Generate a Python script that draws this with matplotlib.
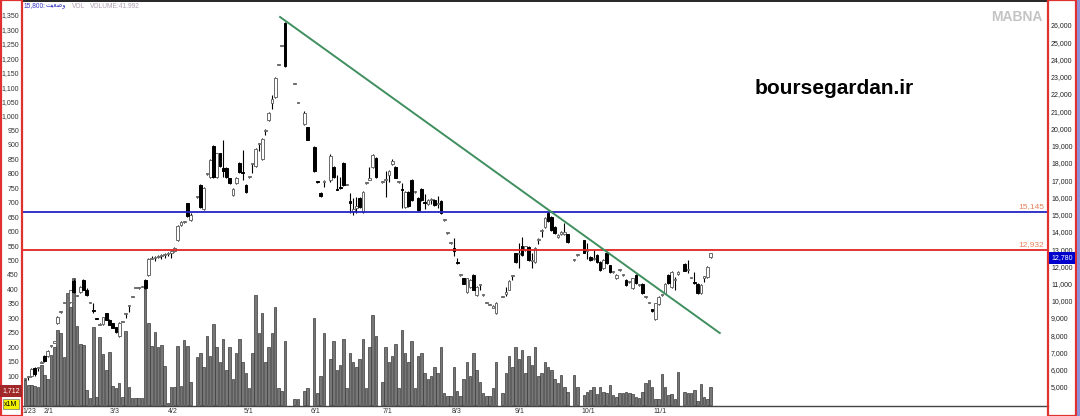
import matplotlib
matplotlib.use("Agg")
import matplotlib.pyplot as plt
import matplotlib.transforms as mtransforms
from matplotlib.patches import Rectangle

plt.rcParams['font.family'] = ['Liberation Sans', 'DejaVu Sans']

# trading day index of every candle (gaps = no candle drawn)
day = (list(range(0, 52)) + list(range(53, 81)) + [83, 84, 86, 87, 89, 90, 91, 92]
       + list(range(94, 109)) + list(range(110, 146)) + list(range(147, 168))
       + [169, 170] + list(range(172, 202)) + list(range(203, 212)))

opens = [5450, 5600, 5650, 6100, 6100, 6400, 6800, 6800, 7350, 7580,
         8700, 9350, 9870, 10150, 9950, 11150, 10250, 10500, 11200, 10650,
         9870, 9400, 8950, 8620, 8650, 9300, 8900, 8700, 8480, 7950,
         8770, 9250, 9700, 10220, 10740, 10740, 10800, 11200, 11500, 12450,
         12500, 12550, 12600, 12650, 12700, 12800, 12900, 13500, 14400, 14550,
         15650, 14700,
         16000, 16700, 15300, 17350, 17200, 19000, 17200, 18550, 17700, 17700,
         17100, 16150, 16830, 18000, 17450, 16720, 17180, 17950, 17800, 19100,
         18200, 19850, 20500, 21500, 21800, 23650, 24800, 26100,
         22600, 21470, 20250, 20080, 18900, 16900, 16250, 16900,
         17000, 17750, 16500, 16600, 18000, 16720, 15800, 15200, 15400, 15950,
         15150, 16830, 17000, 17750, 18300,
         16900, 17000, 17300, 17950, 17750, 16900, 16500, 15450, 16300, 17000,
         16300, 15950, 16500, 15700, 15600, 15850, 15850, 15600, 15800, 14700,
         13930, 13350, 13050, 12250, 11500, 11300, 10500, 10800, 11500, 10350,
         10900, 10340, 9870, 9760, 9600, 9300,
         10220, 10400, 10650, 11450, 12750, 12700, 13200, 12950, 13100, 12300,
         12250, 13500, 14050, 14300, 15100, 14850, 14300, 13700, 13850, 13900,
         13850,
         12350, 12650,
         13500, 12900, 12550, 12400, 12650, 12250, 11900, 12800, 12050, 11650,
         11300, 11800, 11500, 11200, 11100, 10750, 11500, 10900, 11000, 10200,
         9870, 9500, 8950, 9800, 10340, 10450, 11500, 10800, 11200, 11550,
         12150, 11800, 11320, 11100, 11000, 10450, 11350, 11400, 12550]

highs = [5500, 5650, 6100, 6150, 6150, 6480, 6850, 7150, 7420, 7650,
         9100, 9380, 9900, 10200, 10650, 11250, 10350, 10850, 11250, 10750,
         9900, 9870, 8980, 8700, 9080, 9320, 8920, 8720, 8500, 8750,
         8800, 9300, 9750, 10250, 10760, 10780, 10850, 11250, 12500, 12600,
         12600, 12650, 12700, 12800, 12850, 12900, 13100, 14400, 14600, 14600,
         15700, 15100,
         16050, 16750, 16600, 17400, 18200, 19050, 18600, 18600, 19300, 17750,
         17150, 16550, 17200, 18050, 18750, 16800, 17200, 18000, 18870, 19180,
         19450, 19950, 20950, 21950, 23000, 23700, 24860, 26150,
         22650, 21500, 21000, 20100, 18950, 16950, 16300, 16980,
         18500, 17800, 17300, 17200, 18050, 16750, 16250, 15960, 16000, 16000,
         16350, 16850, 17750, 18500, 18350,
         16950, 17500, 17600, 18200, 17800, 16950, 16850, 16350, 16350, 17050,
         16350, 16000, 16550, 16200, 15900, 15950, 15900, 16100, 15850, 14750,
         13950, 13400, 13650, 12500, 11550, 11350, 11350, 11250, 11550, 10850,
         10950, 10380, 9900, 9800, 9760, 9950,
         10250, 10800, 11200, 11520, 12800, 13350, 13700, 13200, 13150, 12800,
         13100, 13650, 14150, 14850, 15150, 14900, 14350, 13850, 14050, 14500,
         13900,
         12450, 12700,
         13550, 13350, 12600, 12950, 12700, 12300, 12400, 12850, 12100, 11700,
         11550, 11850, 11550, 11250, 11150, 11350, 11550, 10950, 11050, 10250,
         9900, 9550, 9900, 10250, 10380, 11050, 11550, 11700, 11400, 11700,
         12200, 12350, 11350, 11650, 11050, 10950, 11400, 12000, 12800]

lows = [5400, 5400, 5600, 5650, 5950, 6400, 6450, 6750, 7330, 7550,
        8650, 9320, 9850, 10150, 9900, 10450, 10250, 10480, 10600, 10300,
        9850, 9300, 8920, 8600, 8600, 8880, 8580, 8400, 8150, 7900,
        8750, 9000, 9350, 10200, 10720, 10700, 10780, 10700, 11450, 12400,
        12300, 12500, 12450, 12500, 12600, 12500, 12850, 13450, 14350, 14500,
        14850, 14650,
        15980, 15400, 15250, 17300, 17150, 17150, 17150, 17750, 17200, 17150,
        16800, 16100, 16800, 17400, 17000, 16250, 17150, 17400, 17750, 18700,
        18150, 19600, 20450, 21100, 21750, 23650, 24800, 23550,
        22600, 21450, 20200, 19300, 17450, 16850, 16000, 16600,
        16900, 17150, 16400, 16500, 16650, 16700, 15100, 15000, 15100, 15400,
        15100, 16800, 17000, 17700, 17150,
        16850, 16000, 16900, 17900, 17100, 16850, 15400, 15400, 15450, 15800,
        16250, 15200, 15800, 15350, 15550, 15600, 15500, 15400, 15050, 14650,
        13900, 13300, 12600, 12150, 11450, 10950, 10450, 10750, 10600, 10300,
        10600, 10300, 9850, 9750, 9580, 9250,
        10200, 10300, 10600, 11200, 12200, 11900, 12600, 12900, 12300, 11900,
        12200, 13300, 13700, 14250, 14550, 14050, 13900, 13650, 13800, 13800,
        13350,
        12300, 12600,
        12750, 12450, 12300, 12350, 12200, 11750, 11850, 12150, 11600, 11600,
        11250, 11750, 11450, 10850, 11050, 10700, 11000, 10850, 10400, 10150,
        9850, 9350, 8900, 9750, 10300, 10400, 11000, 10750, 10600, 11500,
        11700, 11600, 11300, 11000, 10400, 10400, 11100, 11350, 12500]

closes = [5450, 5620, 6050, 5750, 6120, 6450, 6500, 7100, 7400, 7620,
          9050, 9350, 9870, 10160, 10600, 10500, 10300, 10800, 10650, 10350,
          9870, 9380, 8940, 8680, 9050, 8900, 8600, 8450, 8200, 8700,
          8770, 9270, 9720, 10220, 10740, 10750, 10820, 10750, 12450, 12500,
          12550, 12600, 12650, 12700, 12800, 12850, 13050, 14350, 14550, 14580,
          14900, 15000,
          16020, 15450, 16550, 17350, 18150, 17200, 18550, 17800, 17500, 17200,
          16850, 16500, 17150, 17450, 17400, 16300, 17180, 17980, 18800, 19130,
          19400, 19900, 20900, 21700, 22950, 23680, 24840, 23600,
          22630, 21470, 20900, 19330, 17500, 16890, 16050, 16950,
          18400, 17200, 16450, 16550, 16700, 16720, 15700, 15300, 15500, 15450,
          16300, 16830, 17100, 18450, 17200,
          16900, 17050, 17500, 18100, 17150, 16900, 16400, 16300, 15500, 15850,
          16300, 15250, 15850, 15650, 15850, 15900, 15550, 15650, 15100, 14700,
          13930, 13350, 12900, 12200, 11500, 11000, 11300, 11200, 10650, 10800,
          10920, 10340, 9870, 9760, 9700, 9900,
          10220, 10500, 11150, 11500, 12250, 12800, 12650, 13150, 12350, 12350,
          13050, 13600, 14100, 14800, 14600, 14100, 13950, 13800, 14000, 14000,
          13400,
          12400, 12650,
          12800, 12950, 12350, 12450, 12250, 11800, 12350, 12200, 11650, 11650,
          11500, 11800, 11500, 10900, 11100, 11300, 11050, 10900, 10450, 10200,
          9870, 9400, 9850, 10200, 10340, 11000, 11050, 11650, 11250, 11650,
          11750, 11850, 11320, 11050, 10450, 10900, 11380, 11950, 12780]

# volume, millions of shares
volume = [90, 69, 69, 66, 62, 138, 104, 90, 173, 200,
          260, 249, 166, 388, 339, 440, 273, 211, 208, 52,
          24, 270, 28, 235, 176, 121, 183, 66, 59, 76,
          28, 256, 62, 24, 24, 24, 24, 408, 284, 204,
          253, 200, 208, 135, 7, 62, 62, 204, 66, 225,
          204, 80,
          166, 180, 130, 240, 170, 280, 200, 150, 230, 120,
          200, 90, 180, 230, 150, 110, 60, 180, 380, 250,
          320, 150, 200, 250, 340, 60, 50, 220,
          20, 20, 50, 60, 300, 40, 100, 250,
          160, 220, 120, 140, 230, 60, 180, 150, 130, 160,
          230, 60, 200, 310, 240,
          80, 200, 150, 170, 210, 60, 260, 180, 150, 220,
          60, 170, 180, 110, 90, 100, 130, 110, 200, 40,
          30, 30, 130, 50, 30, 90, 150, 100, 180, 120,
          80, 40, 30, 30, 60, 150,
          40, 110, 170, 130, 200, 160, 190, 110, 170, 140,
          200, 100, 110, 150, 130, 120, 90, 75, 104, 63,
          46,
          104, 63,
          35, 46, 52, 63, 38, 63, 46, 40, 69, 35,
          29, 40, 40, 46, 40, 38, 29, 23, 46, 75,
          87, 61, 20, 20, 107, 63, 35, 38, 20, 115,
          46, 40, 40, 52, 15, 73, 29, 20, 61]

tick_days = [1.5, 7.4, 27.7, 45.5, 68.9, 89.5, 111.7, 132.9, 152.3, 173.2, 195.4]
tick_labels = ['1/23', '2/1', '3/3', '4/2', '5/1', '6/1', '7/1', '8/3', '9/1', '10/1', '11/1']

resistance = 15145
support = 12932
last_price = 12780
trend_days = [78.5, 213.8]
trend_prices = [26460, 8130]

W, H = 1080, 416
fig = plt.figure(figsize=(W / 100, H / 100), dpi=100)


def fx(px):
    return px / W


def fy(py):
    return 1 - py / H


ax_vol = fig.add_axes([fx(22), fy(406), fx(1048) - fx(22), fy(1) - fy(406)])
ax = ax_vol.twinx()

# volume bars
ax_vol.bar(day, volume, width=0.78, color='#777777', edgecolor='#3a3a3a', linewidth=0.5)

# candles
ax.vlines(day, lows, highs, color='black', linewidth=0.8, zorder=3)
up_x, up_b, up_h, dn_x, dn_b, dn_h = [], [], [], [], [], []
for d, o, c in zip(day, opens, closes):
    if c >= o:
        up_x.append(d); up_b.append(o); up_h.append(max(c - o, 60))
    else:
        dn_x.append(d); dn_b.append(c); dn_h.append(max(o - c, 60))
ax.bar(up_x, up_h, bottom=up_b, width=0.8, color='white', edgecolor='#6a6a6a',
       linewidth=0.7, zorder=4)
ax.bar(dn_x, dn_h, bottom=dn_b, width=0.8, color='black', edgecolor='black',
       linewidth=0.7, zorder=4)

ax.axhline(resistance, color='#2424c4', linewidth=1.3, zorder=5)
ax.axhline(support, color='#e02424', linewidth=1.3, zorder=5)
ax.plot(trend_days, trend_prices, color='#3f8f5f', linewidth=1.4, zorder=6)

ax.set_xlim(-0.92, 314.8)
ax.set_ylim(3898, 27388)
ax_vol.set_ylim(-3.5, 1398)

# the 50 label sits under the red volume box in the reference, so it starts at 100
vt = list(range(100, 1400, 50))
ax_vol.set_yticks(vt)
ax_vol.set_yticklabels([f'{v:,}' for v in vt])
ax_vol.tick_params(axis='y', labelsize=5, length=0, pad=2.2, labelcolor='#333333')

pt = list(range(5000, 27000, 1000))
ax.set_yticks(pt)
ax.set_yticklabels([f'{v:,}' for v in pt])
ax.tick_params(axis='y', labelsize=5, length=0, pad=2.2, labelcolor='#222222')

ax_vol.set_xticks(tick_days)
ax_vol.set_xticklabels(tick_labels)
ax_vol.tick_params(axis='x', labelsize=5, length=0, pad=1.5, labelcolor='#333333')

for s in ax.spines.values():
    s.set_visible(False)
ax_vol.spines['left'].set_visible(False)
ax_vol.spines['right'].set_visible(False)
ax_vol.spines['top'].set_color('black')
ax_vol.spines['top'].set_linewidth(1.2)
ax_vol.spines['bottom'].set_color('#444444')
ax_vol.spines['bottom'].set_linewidth(1.0)

# level labels above the horizontal lines
tr = mtransforms.blended_transform_factory(ax.transAxes, ax.transData)
ax.text(0.996, resistance + 120, f'{resistance:,}', transform=tr, ha='right', va='bottom',
        fontsize=6, color='#e8805a', zorder=7)
ax.text(0.996, support + 120, f'{support:,}', transform=tr, ha='right', va='bottom',
        fontsize=6, color='#e8805a', zorder=7)

# axis side boxes
fig.add_artist(Rectangle((fx(1), 0), fx(20.5), 1, transform=fig.transFigure,
                         fill=False, edgecolor='#e03030', linewidth=1.6))
fig.add_artist(Rectangle((fx(1048), 0), fx(28), 1, transform=fig.transFigure,
                         fill=False, edgecolor='#e03030', linewidth=1.6))
fig.add_artist(Rectangle((fx(1077), 0), fx(3), 1, transform=fig.transFigure,
                         facecolor='#8f8fd6', edgecolor='none'))

fig.text(fx(11), fy(391), '1,712', ha='center', va='center', fontsize=5, color='white',
         bbox=dict(boxstyle='square,pad=0.3', fc='#a02828', ec='none'))
fig.text(fx(11), fy(404), 'x1M', ha='center', va='center', fontsize=5, color='black',
         bbox=dict(boxstyle='square,pad=0.25', fc='#f0f000', ec='#777777', lw=0.5))
fig.text(fx(1062), fy(258), f'{last_price:,}', ha='center', va='center', fontsize=5,
         color='white', bbox=dict(boxstyle='square,pad=0.3', fc='#0000cc', ec='none'))

# header
fig.text(fx(24), fy(6), '15,800:', ha='left', va='center', fontsize=4.8, color='#3535c8')
fig.text(fx(46), fy(6), '\ufe96\ufef4\ufecc\ufebf\ufeed', ha='left', va='center',
         fontsize=4.8, color='#3535c8', family=['DejaVu Sans'])
fig.text(fx(72), fy(6), 'VOL', ha='left', va='center', fontsize=4.8, color='#b0a0b0')
fig.text(fx(90), fy(6), 'VOLUME:41.992', ha='left', va='center', fontsize=4.8, color='#b0a0b0')

fig.text(fx(1042), fy(17), 'MABNA', ha='right', va='center', fontsize=10,
         fontweight='bold', color='#c4c4c4')
fig.text(fx(755), fy(88), 'boursegardan.ir', ha='left', va='center', fontsize=15,
         fontweight='bold', color='black')

fig.savefig('out.png', dpi=100)
